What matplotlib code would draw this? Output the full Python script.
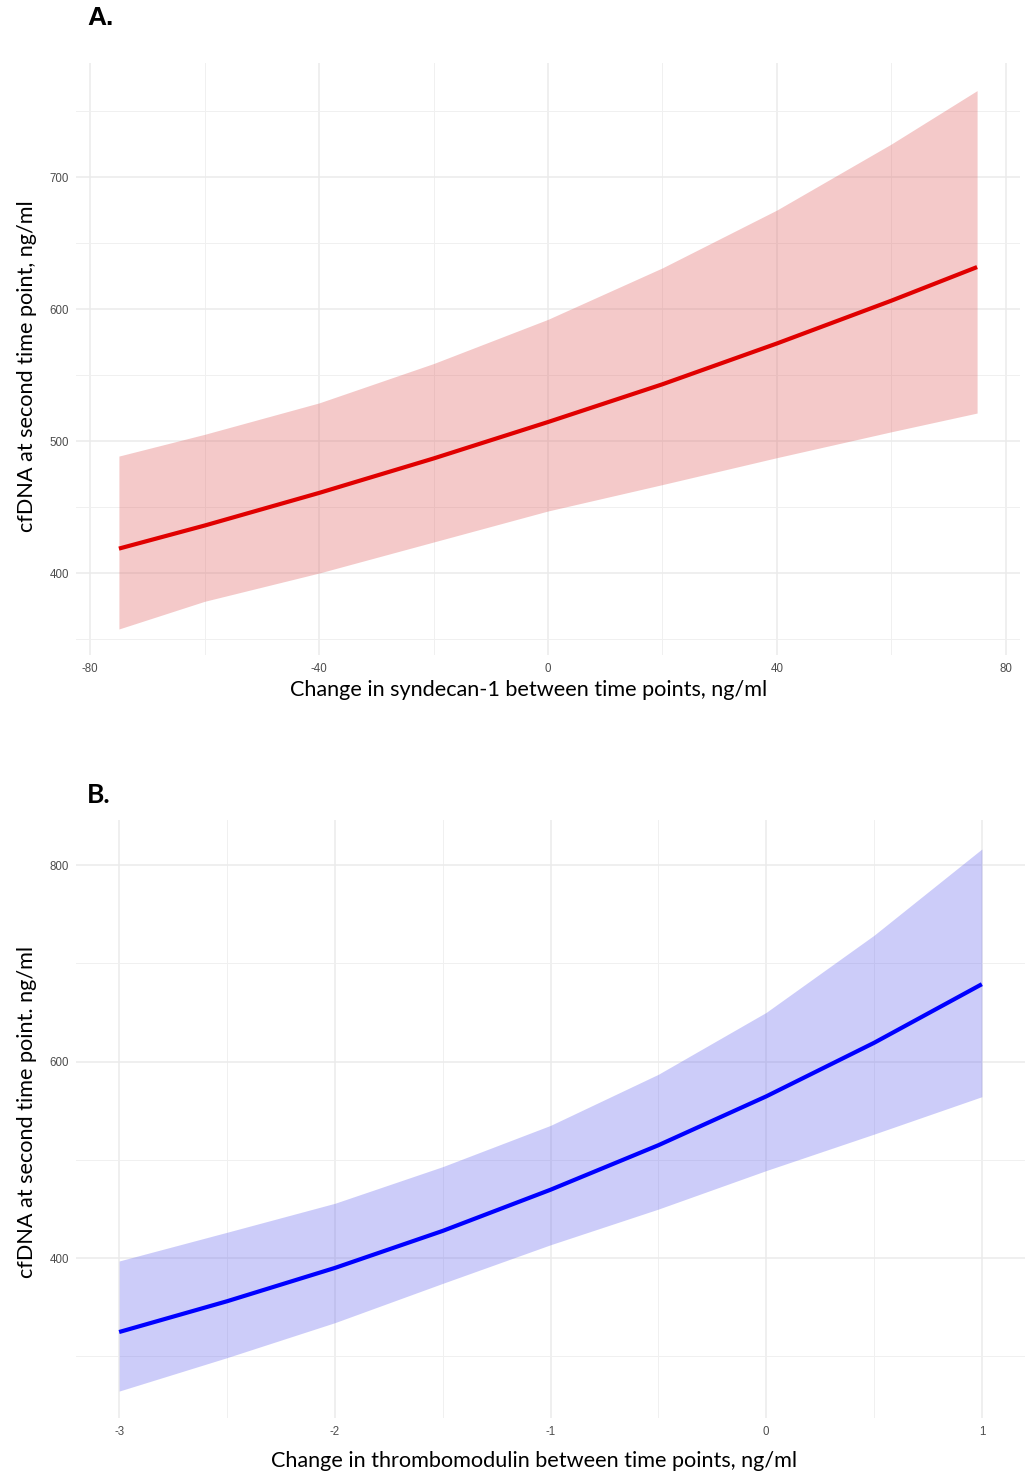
import matplotlib
matplotlib.use("Agg")
import matplotlib.pyplot as plt
from matplotlib.ticker import MultipleLocator

plt.rcParams["axes.unicode_minus"] = False

# ---- Panel A data: syndecan-1 ----
a_x = [-75, -60, -40, -20, 0, 20, 40, 60, 75]
a_fit = [418.5, 436.0, 460.7, 486.8, 514.4, 543.0, 573.9, 606.3, 631.8]
a_upper = [488.6, 505.1, 528.9, 558.7, 592.2, 631.2, 675.0, 725.0, 765.5]
a_lower = [357.6, 378.6, 400.0, 423.5, 447.0, 467.0, 487.4, 507.0, 521.2]

# ---- Panel B data: thrombomodulin ----
b_x = [-3, -2.5, -2, -1.5, -1, -0.5, 0, 0.5, 1]
b_fit = [324.7, 356.0, 389.9, 427.6, 469.5, 514.8, 564.5, 619.0, 678.7]
b_upper = [397.0, 426.2, 455.7, 493.0, 535.0, 587.0, 650.0, 728.5, 816.3]
b_lower = [264.6, 298.6, 334.2, 374.2, 413.5, 449.8, 489.0, 526.1, 564.2]

a_xticks = [-80, -40, 0, 40, 80]
a_yticks = [400, 500, 600, 700]
b_xticks = [-3, -2, -1, 0, 1]
b_yticks = [400, 600, 800]

W, H = 1031, 1475
fig = plt.figure(figsize=(W / 100, H / 100), dpi=100)
fig.patch.set_facecolor("white")

label_font = ["Lato", "DejaVu Sans"]
tick_font = ["Liberation Sans", "DejaVu Sans"]


def px_axes(left, top, right, bottom):
    return fig.add_axes([left / W, 1 - bottom / H, (right - left) / W, (bottom - top) / H])


def style(ax, xticks, yticks, xminor, yminor):
    ax.set_facecolor("white")
    for s in ax.spines.values():
        s.set_visible(False)
    ax.set_xticks(xticks)
    ax.set_yticks(yticks)
    ax.xaxis.set_minor_locator(MultipleLocator(xminor))
    ax.yaxis.set_minor_locator(MultipleLocator(yminor))
    ax.tick_params(which="both", length=0)
    ax.tick_params(axis="x", pad=6, labelsize=8.3, labelcolor="#4d4d4d")
    ax.tick_params(axis="y", pad=5, labelsize=8.3, labelcolor="#4d4d4d")
    for lab in ax.get_xticklabels() + ax.get_yticklabels():
        lab.set_family(tick_font)
    ax.grid(True, which="major", color="#ebebeb", linewidth=1.1)
    ax.grid(True, which="minor", color="#f0f0f0", linewidth=0.7)
    ax.set_axisbelow(True)


# Panel A
axA = px_axes(76, 63, 1020, 655)
axA.fill_between(a_x, a_lower, a_upper, color="#e06666", alpha=0.35, linewidth=0)
axA.plot(a_x, a_fit, color="#e00000", linewidth=3.0, solid_capstyle="butt")
axA.set_xlim(-82.5, 82.5)
axA.set_ylim(337.9, 786.4)
style(axA, a_xticks, a_yticks, 20, 50)

# Panel B
axB = px_axes(76, 820, 1025, 1418)
axB.fill_between(b_x, b_lower, b_upper, color="#6666ee", alpha=0.33, linewidth=0)
axB.plot(b_x, b_fit, color="#0000ff", linewidth=3.0, solid_capstyle="butt")
axB.set_xlim(-3.2, 1.2)
axB.set_ylim(237.2, 845.8)
style(axB, b_xticks, b_yticks, 0.5, 100)

# Titles
fig.text(87 / W, 1 - 18 / H, "A.", fontsize=19, fontweight="bold",
         family=["Liberation Sans", "DejaVu Sans"], ha="left", va="center")
fig.text(87 / W, 1 - 795 / H, "B.", fontsize=19, fontweight="bold",
         family=["Lato", "DejaVu Sans"], ha="left", va="center")

# Axis labels
fig.text(529 / W, 1 - 690 / H, "Change in syndecan-1 between time points, ng/ml",
         fontsize=15.6, family=label_font, ha="center", va="center")
fig.text(534 / W, 1 - 1461 / H, "Change in thrombomodulin between time points, ng/ml",
         fontsize=15.6, family=label_font, ha="center", va="center")
fig.text(27 / W, 1 - 366 / H, "cfDNA at second time point, ng/ml",
         fontsize=15.6, family=label_font, ha="center", va="center", rotation=90)
fig.text(27 / W, 1 - 1112 / H, "cfDNA at second time point. ng/ml",
         fontsize=15.6, family=label_font, ha="center", va="center", rotation=90)

fig.savefig("out.png", dpi=100, facecolor="white")
